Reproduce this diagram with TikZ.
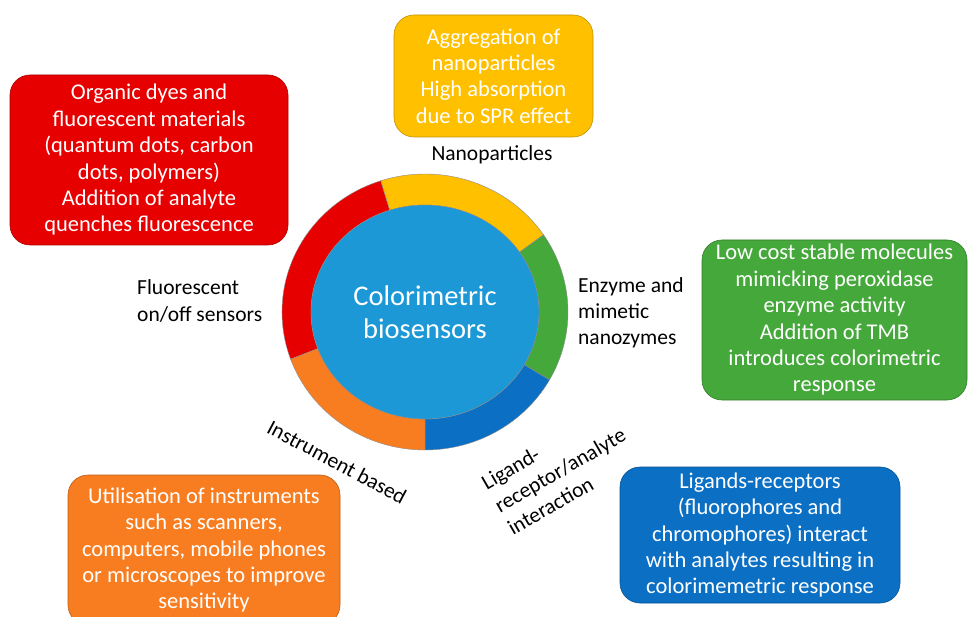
\documentclass[tikz,border=0pt]{standalone}
\usepackage{fontspec}
\setmainfont{Carlito}
\usetikzlibrary{shapes.geometric}
\definecolor{cred}{HTML}{E60000}
\definecolor{cyellow}{HTML}{FFC000}
\definecolor{cgreen}{HTML}{44A83A}
\definecolor{cblue}{HTML}{0B6FC4}
\definecolor{corange}{HTML}{F87D20}
\definecolor{ccenter}{HTML}{1B98D5}
\begin{document}
\begin{tikzpicture}[x=1pt,y=1pt,
  infobox/.style={draw=#1!75!black, line width=0.6pt, fill=#1, rounded corners=20pt,
    text=white, align=center, inner sep=0pt, font=\fontsize{22.5}{26.4}\selectfont},
  lbl/.style={text=black, inner sep=0pt, font=\fontsize{21.5}{26.2}\selectfont},
  seg/.style={fill=#1, draw=black!45, line width=0.4pt}]
\useasboundingbox (0,0) rectangle (968,616);
\clip (0,0) rectangle (968,616);
\def\cx{425}\def\cy{304}
\def\ra{143}\def\rb{138}\def\ia{114}\def\ib{107}
\newcommand{\ringseg}[3]{%
  \path[seg=#1] ({\cx+\ra*cos(#2)},{\cy+\rb*sin(#2)})
    arc[start angle=#2, end angle=#3, x radius=\ra, y radius=\rb]
    -- ({\cx+\ia*cos(#3)},{\cy+\ib*sin(#3)})
    arc[start angle=#3, end angle=#2, x radius=\ia, y radius=\ib] -- cycle;}
\ringseg{cred}{108}{200}
\ringseg{cyellow}{34}{108}
\ringseg{cgreen}{-29.5}{34}
\ringseg{cblue}{-90}{-29.5}
\ringseg{corange}{200}{270}
\node[ellipse, draw=black!45, line width=0.4pt, fill=ccenter, minimum width=228pt, minimum height=214pt,
  inner sep=0pt, text=white, align=center, font=\fontsize{28.5}{33}\selectfont] (core) at (\cx,\cy)
  {Colorimetric\\biosensors};
\node[infobox=cred, minimum width=278pt, minimum height=170pt] (fluobox) at (149,456)
  {Organic dyes and\\fluorescent materials\\(quantum dots, carbon\\dots, polymers)\\Addition of analyte\\quenches fluorescence};
\node[infobox=cyellow, minimum width=199pt, minimum height=122pt] (nanobox) at (493.5,540)
  {Aggregation of\\nanoparticles\\High absorption\\due to SPR effect};
\node[infobox=cgreen, minimum width=265pt, minimum height=160pt] (enzbox) at (834.5,296)
  {Low cost stable molecules\\mimicking peroxidase\\enzyme activity\\Addition of TMB\\introduces colorimetric\\response};
\node[infobox=cblue, minimum width=280pt, minimum height=136pt] (ligbox) at (760,81)
  {Ligands-receptors\\(fluorophores and\\chromophores) interact\\with analytes resulting in\\colorimemetric response};
\node[infobox=corange, minimum width=272pt, minimum height=150pt] (insbox) at (204,66)
  {Utilisation of instruments\\such as scanners,\\computers, mobile phones\\or microscopes to improve\\sensitivity};
\node[lbl] (nanolbl) at (492,461) {Nanoparticles};
\node[lbl, anchor=west, align=left] (fluolbl) at (137,315) {Fluorescent\\on/off sensors};
\node[lbl, anchor=west, align=left] (enzlbl) at (578,303) {Enzyme and\\mimetic\\nanozymes};
\node[lbl, rotate=-28] (inslbl) at (337,154) {Instrument based};
\node[lbl, rotate=30, align=left] (liglbl) at (560,146) {Ligand-\\receptor/analyte\\interaction};
\end{tikzpicture}
\end{document}
